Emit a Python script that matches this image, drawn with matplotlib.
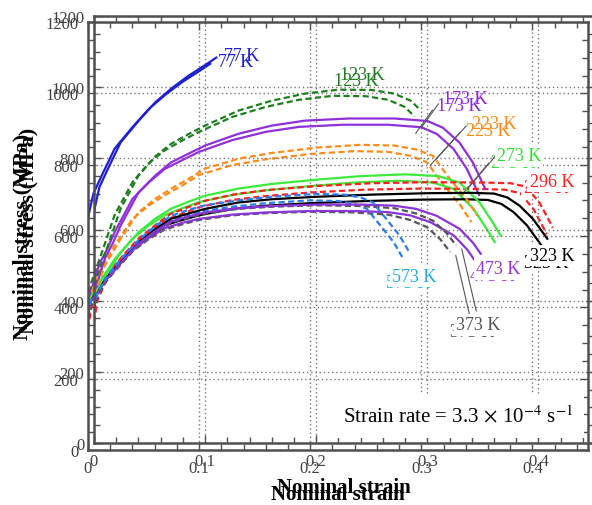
import matplotlib
matplotlib.use("Agg")
import matplotlib.pyplot as plt
from matplotlib.ticker import MultipleLocator, FixedLocator

plt.rcParams['font.family'] = ['Liberation Serif', 'DejaVu Serif']
plt.rcParams['mathtext.fontset'] = 'stix'

# ---------------- data (nominal strain, nominal stress in MPa) ----------------
strain_77 = [0, 0.002, 0.005, 0.0126, 0.024, 0.04, 0.055, 0.07, 0.085, 0.1, 0.11]
stress_77 = [650, 680, 720, 771, 845, 905, 957, 997, 1032, 1062, 1083]

strain_123 = [0, 0.003, 0.0126, 0.017, 0.024, 0.04, 0.055, 0.069, 0.085, 0.1, 0.13, 0.16, 0.19, 0.22, 0.25, 0.27, 0.285, 0.294]
stress_123 = [415, 470, 555, 595, 659, 751, 805, 840, 868, 892, 934, 962, 982, 993, 992, 982, 962, 935]

strain_173 = [0, 0.003, 0.01, 0.017, 0.024, 0.04, 0.055, 0.069, 0.085, 0.1, 0.13, 0.16, 0.19, 0.23, 0.27, 0.3, 0.314, 0.329, 0.341, 0.352]
stress_173 = [400, 450, 520, 562, 611, 704, 751, 788, 813, 836, 869, 892, 906, 912, 912, 905, 886, 844, 788, 715]

strain_223 = [0, 0.003, 0.01, 0.017, 0.024, 0.04, 0.055, 0.069, 0.085, 0.1, 0.13, 0.16, 0.2, 0.24, 0.27, 0.29, 0.305, 0.32, 0.335, 0.345]
stress_223 = [390, 440, 500, 537, 574, 648, 686, 714, 742, 771, 799, 815, 830, 838, 836, 825, 807, 743, 687, 639]

strain_273 = [0, 0.003, 0.01, 0.017, 0.024, 0.04, 0.055, 0.069, 0.085, 0.1, 0.13, 0.16, 0.2, 0.24, 0.28, 0.31, 0.329, 0.347, 0.359, 0.366]
stress_273 = [390, 430, 470, 502, 535, 592, 630, 658, 678, 695, 715, 728, 740, 750, 755, 750, 732, 676, 619, 583]

strain_296 = [0, 0.003, 0.01, 0.017, 0.024, 0.04, 0.055, 0.069, 0.085, 0.1, 0.13, 0.16, 0.2, 0.25, 0.3, 0.35, 0.375, 0.389, 0.401, 0.413]
stress_296 = [340, 400, 450, 482, 518, 574, 612, 644, 663, 681, 701, 712, 722, 730, 733, 732, 730, 720, 675, 605]

strain_323 = [0, 0.003, 0.01, 0.017, 0.024, 0.04, 0.055, 0.069, 0.085, 0.1, 0.13, 0.16, 0.2, 0.25, 0.3, 0.34, 0.36, 0.372, 0.383, 0.395, 0.408]
stress_323 = [380, 420, 460, 483, 507, 563, 600, 630, 645, 658, 676, 685, 692, 698, 702, 703, 701, 690, 667, 630, 574]

strain_373 = [0, 0.003, 0.01, 0.017, 0.024, 0.04, 0.055, 0.069, 0.085, 0.1, 0.13, 0.16, 0.2, 0.24, 0.27, 0.29, 0.305, 0.317, 0.326]
stress_373 = [370, 410, 450, 477, 502, 557, 592, 618, 633, 645, 658, 664, 668, 666, 660, 645, 625, 591, 555]

strain_473 = [0, 0.003, 0.01, 0.017, 0.024, 0.04, 0.055, 0.069, 0.085, 0.1, 0.13, 0.16, 0.2, 0.24, 0.27, 0.29, 0.308, 0.329, 0.341, 0.348]
stress_473 = [390, 420, 455, 480, 505, 560, 595, 622, 637, 648, 660, 666, 670, 670, 667, 658, 639, 602, 563, 532]

strain_573 = [0, 0.003, 0.01, 0.017, 0.024, 0.04, 0.055, 0.069, 0.085, 0.1, 0.13, 0.16, 0.2, 0.225, 0.24, 0.251, 0.263, 0.275, 0.284]
stress_573 = [380, 420, 460, 488, 515, 570, 610, 638, 655, 668, 682, 692, 700, 698, 690, 676, 630, 583, 535]

temperatures = ["77 K", "123 K", "173 K", "223 K", "273 K", "296 K", "323 K", "373 K", "473 K", "573 K"]

# label anchors (strain, stress) and leader ends
label_pos = {
    "77 K": (0.117, 1088), "123 K": (0.221, 1037), "173 K": (0.314, 967),
    "223 K": (0.340, 897), "273 K": (0.3625, 807), "296 K": (0.392, 735),
    "323 K": (0.392, 526), "373 K": (0.326, 332), "473 K": (0.344, 489),
    "573 K": (0.268, 469),
}
leaders = {
    "173 K": ((0.310, 953), (0.295, 888)),
    "223 K": ((0.335, 891), (0.308, 798)),
    "273 K": ((0.3606, 804), (0.336, 714)),
    "373 K": ((0.344, 371), (0.331, 545)),
}
boxed = {"273 K", "296 K", "323 K", "373 K", "473 K", "573 K"}

x_ticks = [0, 0.1, 0.2, 0.3, 0.4]
x_ticklabels = ["0", "0.1", "0.2", "0.3", "0.4"]
y_ticks = [0, 200, 400, 600, 800, 1000, 1200]
y_ticklabels = ["0", "200", "400", "600", "800", "1000", "1200"]

series = [
    (strain_77, stress_77, "#1f1fd0", "-"),
    (strain_123, stress_123, "#1e7d1e", "--"),
    (strain_173, stress_173, "#9030d8", "-"),
    (strain_223, stress_223, "#ff8c1a", "--"),
    (strain_273, stress_273, "#3cea3c", "-"),
    (strain_296, stress_296, "#ff2020", "--"),
    (strain_323, stress_323, "#000000", "-"),
    (strain_373, stress_373, "#555555", "--"),
    (strain_473, stress_473, "#8a35d8", "-"),
    (strain_573, stress_573, "#2a7cf0", "--"),
]
label_colors = ["#1f1fd0", "#1e7d1e", "#8a2be2", "#ff8c1a", "#33dd33", "#ff2020",
                "#000000", "#555555", "#9933dd", "#22aadd"]


def draw(ax):
    ax.set_xlim(0, 0.45)
    ax.set_ylim(0, 1200)
    for (sx, sy, c, ls) in series:
        if ls == "--":
            ax.plot(sx, sy, color=c, lw=1.6, dashes=(2.8, 1.5), solid_capstyle='butt',
                    dash_joinstyle='round')
        else:
            ax.plot(sx, sy, color=c, lw=1.6, solid_joinstyle='round')
    for t, c in zip(temperatures, label_colors):
        x, y = label_pos[t]
        kw = {}
        if t in boxed:
            kw['bbox'] = dict(facecolor='white', edgecolor='none', boxstyle='square,pad=0.12')
        ax.text(x, y, t, color=c, fontsize=13, ha='left', va='center', zorder=5, **kw)
    for t, ((x0, y0), (x1, y1)) in leaders.items():
        ax.plot([x0, x1], [y0, y1], color='#555555', lw=0.8, zorder=4)
    ax.text(0.224, 76, r"Strain rate = 3.3$\,\times\,$10$^{-4}$ s$^{-1}$", fontsize=15,
            ha='left', va='center', zorder=6,
            bbox=dict(facecolor='white', edgecolor='none', boxstyle='square,pad=0.55'))

    ax.xaxis.set_major_locator(FixedLocator(x_ticks))
    ax.set_xticklabels(x_ticklabels)
    ax.yaxis.set_major_locator(FixedLocator(y_ticks))
    ax.set_yticklabels(y_ticklabels)
    ax.xaxis.set_minor_locator(MultipleLocator(0.02))
    ax.yaxis.set_minor_locator(MultipleLocator(50))
    ax.tick_params(which='both', direction='in', top=True, right=True, colors='#505050',
                   labelcolor='#404040', labelsize=12, width=1.0)
    ax.tick_params(which='major', length=6, pad=7)
    ax.tick_params(which='minor', length=4)
    ax.grid(True, which='major', linestyle=(0, (1, 2)), color='#777777', lw=1.0)
    for sp in ax.spines.values():
        sp.set_color('#505050')
        sp.set_linewidth(1.8)
    ax.set_xlabel("Nominal strain", fontsize=15, fontweight='bold')
    ax.set_ylabel("Nominal stress (MPa)", fontsize=16, fontweight='bold')
    ax.xaxis.set_label_coords(0.5, -0.08)
    ax.yaxis.set_label_coords(-0.132, 0.5)
    ax.xaxis.label.set_va('top')
    ax.yaxis.label.set_va('center')


fig = plt.figure(figsize=(5.92, 5.06), dpi=100)
fig.patch.set_facecolor('white')
W, H = 592.0, 506.0
ax_q = fig.add_axes([88 / W, (H - 451) / H, 500 / W, 428 / H])
ax_q.set_facecolor('white')
draw(ax_q)
ax_p = fig.add_axes([94 / W, (H - 444) / H, 500 / W, 427 / H])
ax_p.set_facecolor('none')
ax_p.set_zorder(2)
draw(ax_p)

fig.savefig("out.png", dpi=100)
